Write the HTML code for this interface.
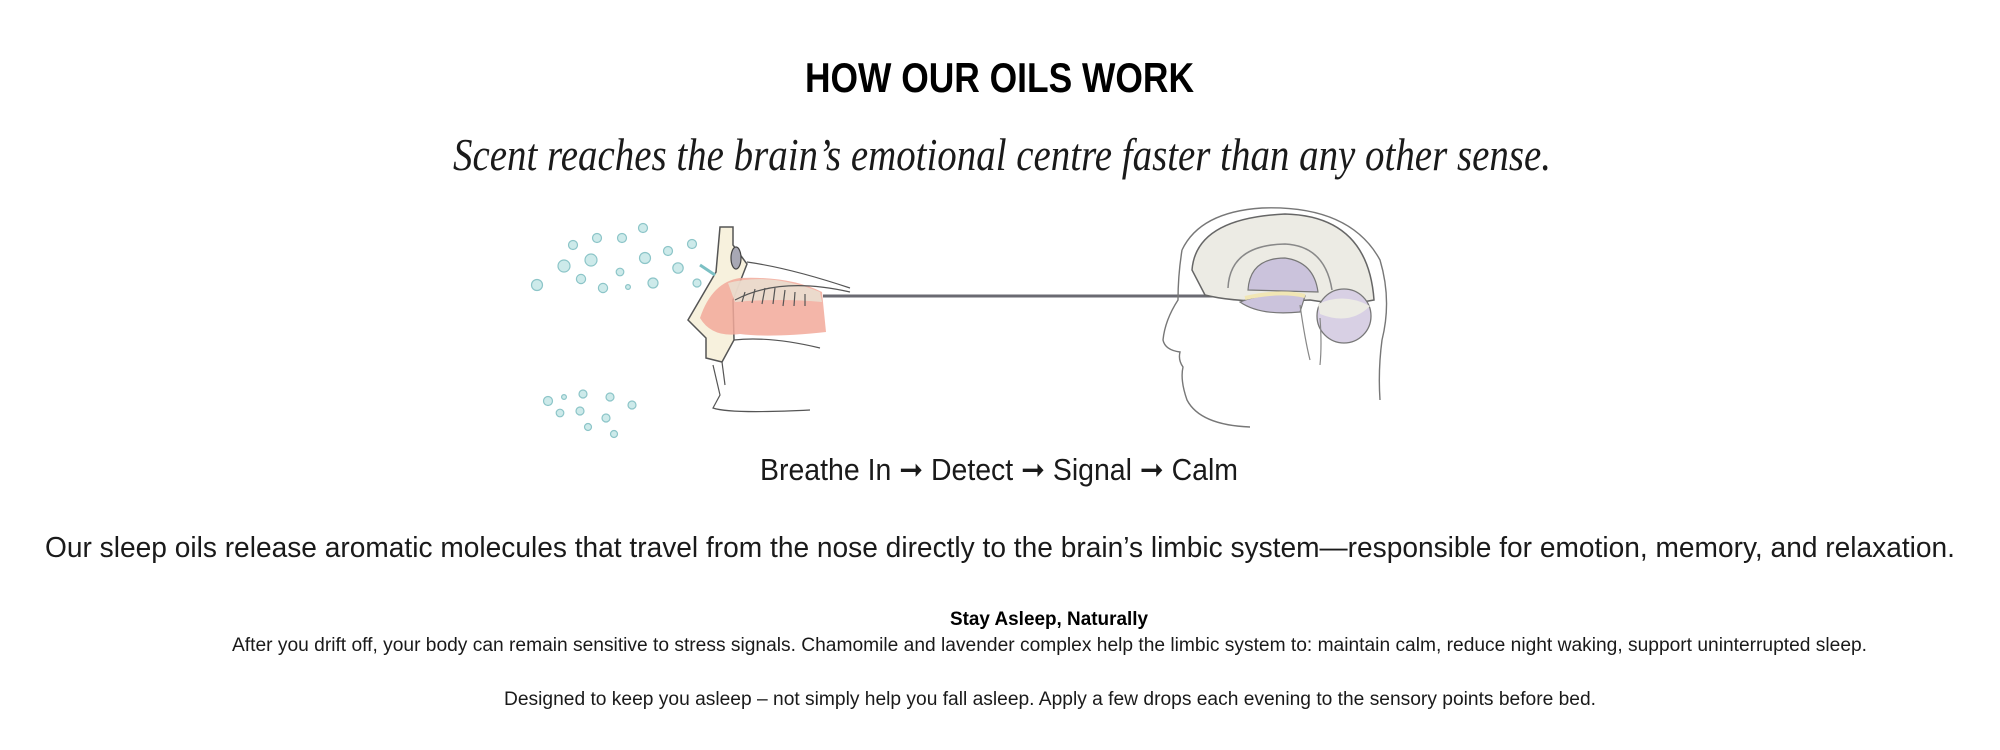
<!DOCTYPE html>
<html><head><meta charset="utf-8"><style>
html,body{margin:0;padding:0;background:#fff;}
svg{display:block;}
</style></head><body>
<svg width="2000" height="750" viewBox="0 0 2000 750" xmlns="http://www.w3.org/2000/svg">
<rect width="2000" height="750" fill="#fff"/>
<g font-family="Liberation Sans, sans-serif" fill="#1a1a1a">
<text x="805" y="92" font-size="42" font-weight="bold" fill="#000" textLength="389" lengthAdjust="spacingAndGlyphs">HOW OUR OILS WORK</text>
<text x="453" y="170" font-family="Liberation Serif, serif" font-style="italic" font-size="46" textLength="1098" lengthAdjust="spacingAndGlyphs">Scent reaches the brain’s emotional centre faster than any other sense.</text>
<text x="760" y="480" font-size="31" textLength="478" lengthAdjust="spacingAndGlyphs">Breathe In ➞ Detect ➞ Signal ➞ Calm</text>
<text x="45" y="557" font-size="29" textLength="1910" lengthAdjust="spacingAndGlyphs">Our sleep oils release aromatic molecules that travel from the nose directly to the brain’s limbic system—responsible for emotion, memory, and relaxation.</text>
<text x="950" y="625" font-size="19" font-weight="bold" fill="#000" textLength="198" lengthAdjust="spacingAndGlyphs">Stay Asleep, Naturally</text>
<text x="232" y="651" font-size="19" textLength="1635" lengthAdjust="spacingAndGlyphs">After you drift off, your body can remain sensitive to stress signals.  Chamomile and lavender complex help the limbic system to: maintain calm, reduce night waking, support uninterrupted sleep.</text>
<text x="504" y="705" font-size="19" textLength="1092" lengthAdjust="spacingAndGlyphs">Designed to keep you asleep – not simply help you fall asleep. Apply a few drops each evening to the sensory points before bed.</text>
</g>
<!-- dots -->
<g fill="#cdeaea" stroke="#8cc5c8" stroke-width="1.2">
<circle cx="643" cy="228" r="4.5"/><circle cx="597" cy="238" r="4.5"/><circle cx="622" cy="238" r="4.5"/>
<circle cx="573" cy="245" r="4.5"/><circle cx="692" cy="244" r="4.5"/><circle cx="668" cy="251" r="4.5"/>
<circle cx="645" cy="258" r="5.5"/><circle cx="591" cy="260" r="6"/><circle cx="564" cy="266" r="6"/>
<circle cx="678" cy="268" r="5.2"/><circle cx="620" cy="272" r="3.8"/><circle cx="581" cy="279" r="4.6"/>
<circle cx="537" cy="285" r="5.5"/><circle cx="603" cy="288" r="4.6"/><circle cx="628" cy="287" r="2.4"/>
<circle cx="653" cy="283" r="5"/><circle cx="697" cy="283" r="4"/>
<circle cx="548" cy="401" r="4.5"/><circle cx="564" cy="397" r="2.4"/><circle cx="583" cy="394" r="4"/>
<circle cx="610" cy="397" r="4"/><circle cx="632" cy="405" r="4"/><circle cx="560" cy="413" r="3.8"/>
<circle cx="580" cy="411" r="4"/><circle cx="606" cy="418" r="4"/><circle cx="588" cy="427" r="3.5"/><circle cx="614" cy="434" r="3.5"/>
</g>
<!-- nose -->
<path d="M720 227 L716 272 L688 320 L706 338 L706 358 L722 362 L734 340 L733 300 L747 264 L733 245 L733 227 Z" fill="#f7f1dd" stroke="#555" stroke-width="1.5"/>
<path d="M700 318 Q712 282 740 278 Q790 276 822 292 L826 332 Q770 338 740 334 Q712 338 700 318 Z" fill="#f2a99a" opacity="0.85"/>
<path d="M728 283 Q770 272 820 292 L822 302 Q780 298 735 302 Z" fill="#e9e3d4" opacity="0.8"/>
<g stroke="#555" stroke-width="1.2" fill="none">
<path d="M745 292 l-3 10 M755 289 l-3 14 M765 288 l-3 16 M775 288 l-2 16 M785 290 l-2 16 M795 292 l-1 14 M805 294 l0 12"/>
<path d="M747 262 Q790 268 850 288"/>
<path d="M735 300 Q780 276 850 292"/>
<path d="M734 340 Q770 336 820 348"/>
<path d="M713 365 L720 395 L713 408 Q730 414 810 410"/>
<path d="M722 362 L725 385"/>
</g>
<ellipse cx="736" cy="258" rx="5" ry="11" fill="#a8a8b4" stroke="#444" stroke-width="1.2"/>
<path d="M700 265 L715 275" stroke="#7cc0c4" stroke-width="3"/>
<!-- connector -->
<line x1="823" y1="296" x2="1233" y2="296" stroke="#6a6a72" stroke-width="3"/>
<!-- head -->
<g fill="none" stroke="#777" stroke-width="1.4">
<path d="M1182 250 Q1200 212 1262 208 Q1350 205 1380 260 Q1392 300 1382 340 Q1378 370 1380 400"/>
<path d="M1182 250 Q1178 275 1178 300 Q1165 320 1163 340 Q1165 350 1180 352 Q1178 360 1183 367 Q1180 380 1187 400 Q1200 425 1250 427"/>
</g>
<path d="M1192 270 Q1196 218 1285 214 Q1368 216 1374 300 Q1345 306 1310 300 Q1240 304 1205 295 Z" fill="#ecebe4" stroke="#666" stroke-width="1.5"/>
<path d="M1228 288 Q1230 245 1285 244 Q1325 246 1332 290" fill="none" stroke="#888" stroke-width="1.5"/>
<path d="M1248 290 Q1250 258 1285 258 Q1314 262 1318 292 Z" fill="#cbc3dc" stroke="#777" stroke-width="1.2"/>
<path d="M1240 302 Q1270 290 1305 296 L1300 312 Q1260 316 1240 302 Z" fill="#cbc3dc" stroke="#777" stroke-width="1.2"/>
<path d="M1245 298 Q1280 290 1305 296" stroke="#f1e6b5" stroke-width="4" fill="none"/>
<circle cx="1344" cy="316" r="27" fill="#d8d0e4" stroke="#777" stroke-width="1.3"/>
<path d="M1318 304 Q1344 292 1370 306 Q1350 326 1320 314 Z" fill="#ecebe4"/>
<path d="M1300 305 Q1305 340 1310 360 M1320 318 Q1322 345 1320 365" stroke="#888" stroke-width="1.2" fill="none"/>
</svg>
</body></html>
